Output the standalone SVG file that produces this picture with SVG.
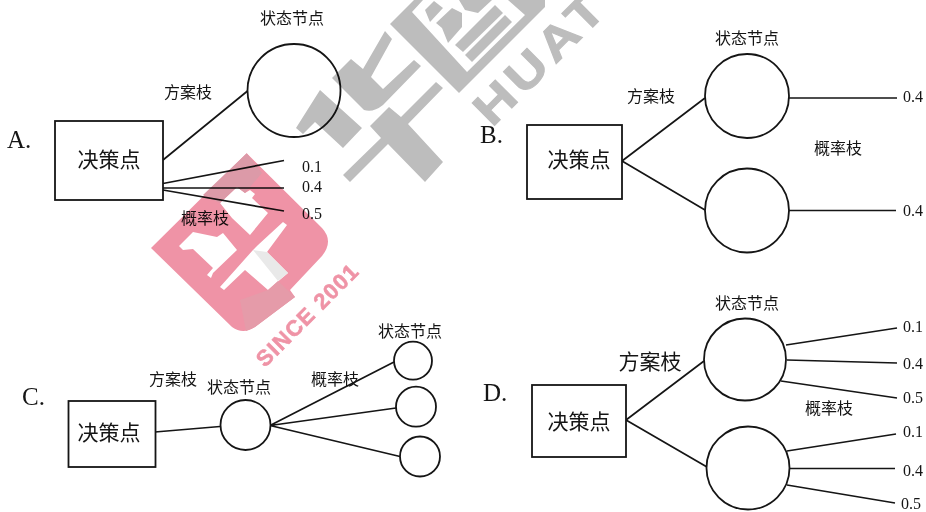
<svg xmlns="http://www.w3.org/2000/svg" width="926" height="512" viewBox="0 0 926 512">
<style>
.n{fill:#fff;stroke:#151515;stroke-width:1.8}
.c{fill:none;stroke:#151515;stroke-width:1.7}
text{fill:#151515;text-anchor:middle}
.z{font-family:"Noto Sans CJK SC","Noto Sans CJK JP",sans-serif;font-weight:400}
.d{font-size:21px}
.s{font-size:16px}
.v{font-family:"Liberation Serif",serif;font-size:16px;text-anchor:start}
.o{font-family:"Liberation Serif",serif;font-size:25px;text-anchor:start}
.wm{mix-blend-mode:multiply}
.g{fill:#bdbdbd}
.p{fill:#ef93a6}
.wt{font-family:"Liberation Sans",sans-serif;font-weight:700;text-anchor:start}
</style>
<rect width="926" height="512" fill="#fff"/>
<g id="connectors">
<path class="c" d="M163 160L247.500 91M163 183.500L284 160.500M163 188L284 188M163 190L284 211"/>
<path class="c" d="M622 161L705 98M622 161L705 210M789 98L897 98M789 210.500L896 210.500"/>
<path class="c" d="M155 432L220 426.500M270 425.500L394 362M270 425.500L396 408M270 425.500L400 456.500"/>
<path class="c" d="M626 420L704 361M626 420L707 467M786 345L897 328M787 360L897 363M781 381L897 398M787 451L896 434M789 468.500L895 468.500M787 485L895 503"/>
</g>
<g id="A">
<text class="o" x="7" y="148">A.</text>
<g id="a-decision"><rect class="n" x="55" y="121" width="108" height="79"/><text class="z d" x="109" y="167">决策点</text></g>
<g id="a-state"><circle class="n" cx="294" cy="90.500" r="46.500"/><text class="z s" x="292" y="24">状态节点</text></g>
<text class="z s" x="188" y="98">方案枝</text>
<text class="z s" x="205" y="224">概率枝</text>
<text class="v" x="302" y="172">0.1</text>
<text class="v" x="302" y="192">0.4</text>
<text class="v" x="302" y="219">0.5</text>
</g>
<g id="B">
<text class="o" x="480" y="143">B.</text>
<g id="b-decision"><rect class="n" x="527" y="125" width="95" height="74"/><text class="z d" x="579" y="167">决策点</text></g>
<g id="b-state1"><circle class="n" cx="747" cy="96" r="42"/><text class="z s" x="747" y="44">状态节点</text></g>
<g id="b-state2"><circle class="n" cx="747" cy="210.500" r="42"/></g>
<text class="z s" x="651" y="102">方案枝</text>
<text class="z s" x="838" y="154">概率枝</text>
<text class="v" x="903" y="102">0.4</text>
<text class="v" x="903" y="216">0.4</text>
</g>
<g id="C">
<text class="o" x="22" y="405">C.</text>
<g id="c-decision"><rect class="n" x="68.500" y="401" width="87" height="66"/><text class="z d" x="109" y="440">决策点</text></g>
<g id="c-state0"><circle class="n" cx="245.500" cy="425" r="25"/><text class="z s" x="239" y="393">状态节点</text></g>
<g id="c-state1"><circle class="n" cx="413" cy="360.700" r="19"/><text class="z s" x="410" y="337">状态节点</text></g>
<g id="c-state2"><circle class="n" cx="416" cy="406.700" r="20"/></g>
<g id="c-state3"><circle class="n" cx="420" cy="456.500" r="20"/></g>
<text class="z s" x="173" y="385">方案枝</text>
<text class="z s" x="335" y="385">概率枝</text>
</g>
<g id="D">
<text class="o" x="483" y="401">D.</text>
<g id="d-decision"><rect class="n" x="532" y="385" width="94" height="72"/><text class="z d" x="579" y="429">决策点</text></g>
<g id="d-state1"><circle class="n" cx="745" cy="359.500" r="41"/><text class="z s" x="747" y="309">状态节点</text></g>
<g id="d-state2"><circle class="n" cx="748" cy="468" r="41.500"/></g>
<text class="z d" x="650" y="369">方案枝</text>
<text class="z s" x="829" y="414">概率枝</text>
<text class="v" x="903" y="332">0.1</text>
<text class="v" x="903" y="369">0.4</text>
<text class="v" x="903" y="403">0.5</text>
<text class="v" x="903" y="437">0.1</text>
<text class="v" x="903" y="476">0.4</text>
<text class="v" x="901" y="509">0.5</text>
</g>
<g id="watermark-gray" class="wm">
<polygon class="g" points="296,128 320,90 362,128 343,148 315,122 303,134"/>
<path class="g" d="M332 78L351 59L363 69L385 31L392 39L371 77L383 89L414 60L421 66L383 105Q373 113 364 110Z"/>
<polygon class="g" points="370,126 389,107 401,117 436,82 443,88 408,124 443,162 425,182 388,144 350,182 343,175 381,138"/>
<path class="g" fill-rule="evenodd" d="M390 24L414 0L545 0L545 7L459 93ZM412 12L467 72L525 15L508 0L423 0Z"/>
<polygon class="g" points="425,10 434,1 443,8 430,22"/>
<polygon class="g" points="436,23 452,8 462,13 462,27 448,43 442,28"/>
<polygon class="g" points="459,0 492,0 478,13 465,10"/>
<polygon class="g" points="455,45 495,5 503,13 463,52"/>
<polygon class="g" points="465,55 505,15 512,22 472,62"/>
<text class="wt g" font-size="46" letter-spacing="4" stroke="#bdbdbd" stroke-width="1" transform="translate(492,128) rotate(-45) scale(1.2,1)">HUAT</text>
</g>
<g id="watermark-red" class="wm">
<path class="p" fill-rule="evenodd" d="M246.700 153.300L322 228Q334 241 322 256L290 290L295 297L255 327Q243 335 232 327L151 248ZM179 246L193 232L217 237L223 233L237 250L213 273L211 278L207 275L213 268L193 249L183 250ZM220 203L237 187L245 193L250 190L255 194L252 198L268 213L250 235L232 218ZM220 287L224 290L245 270L268 290L288 273L267 252L287 225L283 222L258 245L253 250Z"/>
<polygon fill="#e9e9e9" points="253,250 267,252 288,273 278,281"/>
<polygon fill="#dc9aa8" points="246.700,153.300 203,195 220,203 237,187 245,193 262,173"/>
<polygon fill="#e59ba9" points="268,290 278,281 295,297 255,327 246,331 240,300"/>
<text class="wt p" font-size="22" letter-spacing="1.300" stroke="#ef93a6" stroke-width=".6" transform="translate(265,368) rotate(-45)">SINCE 2001</text>
</g>
</svg>
